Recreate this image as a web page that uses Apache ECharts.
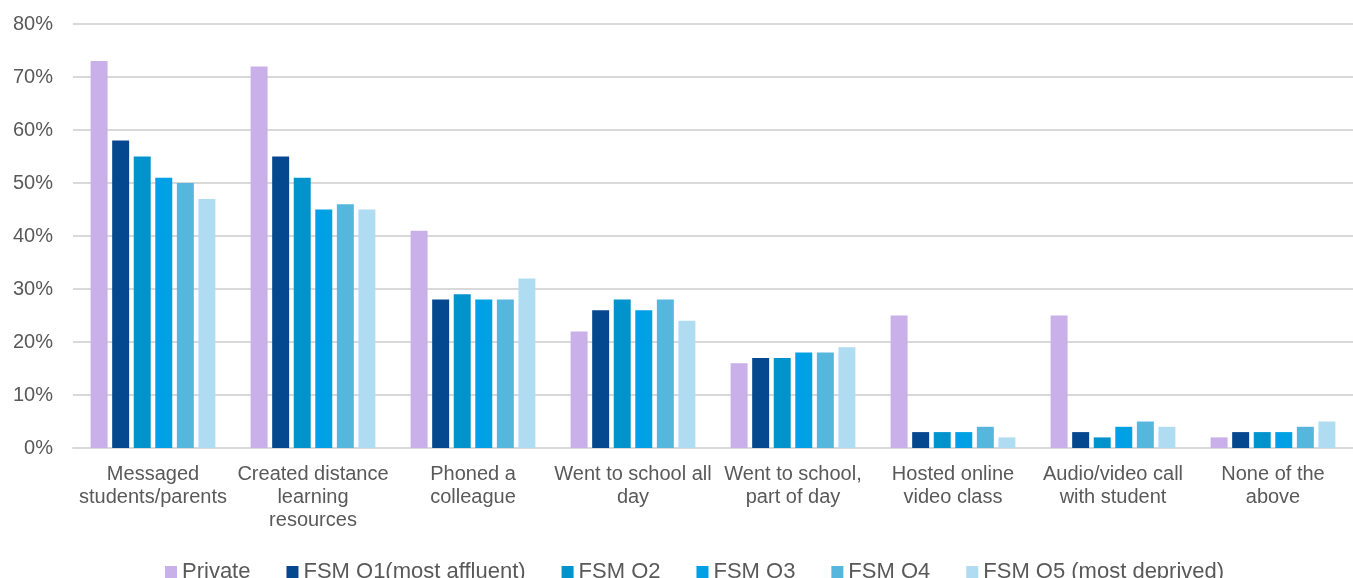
<!DOCTYPE html>
<html>
<head>
<meta charset="utf-8">
<script src="https://cdn.jsdelivr.net/npm/echarts@6/dist/echarts.min.js"></script>
<style>
html,body{margin:0;padding:0;background:#fff;}
#chart{width:1353px;height:578px;}
</style>
</head>
<body>
<div id="chart"></div>
<script>
const categories = [
  "Messaged\nstudents/parents",
  "Created distance\nlearning\nresources",
  "Phoned a\ncolleague",
  "Went to school all\nday",
  "Went to school,\npart of day",
  "Hosted online\nvideo class",
  "Audio/video call\nwith student",
  "None of the\nabove"
];
const seriesNames = ["Private", "FSM Q1(most affluent)", "FSM Q2", "FSM Q3", "FSM Q4", "FSM Q5 (most deprived)"];
const privateVals = [73, 72, 41, 22, 16, 25, 25, 2];
const q1Vals = [58, 55, 28, 26, 17, 3, 3, 3];
const q2Vals = [55, 51, 29, 28, 17, 3, 2, 3];
const q3Vals = [51, 45, 28, 26, 18, 3, 4, 3];
const q4Vals = [50, 46, 28, 28, 18, 4, 5, 4];
const q5Vals = [47, 45, 32, 24, 19, 2, 4, 5];
const yTicks = [0, 10, 20, 30, 40, 50, 60, 70, 80];

const colors = ["#CAB0E8", "#05488F", "#0093CC", "#00A1E4", "#57B6DD", "#B0DCF1"];
const allVals = [privateVals, q1Vals, q2Vals, q3Vals, q4Vals, q5Vals];

const chart = echarts.init(document.getElementById('chart'));
const FONT = "'Liberation Sans', Arial, sans-serif";
chart.setOption({
  animation: false,
  textStyle: { fontFamily: FONT },
  color: colors,
  grid: { left: 73, right: 0, top: 24, bottom: 130, containLabel: false },
  legend: {
    data: seriesNames,
    top: 556,
    left: 160,
    itemWidth: 12,
    itemHeight: 12,
    itemGap: 36,
    icon: 'rect',
    textStyle: { color: '#595959', fontSize: 22, fontFamily: FONT }
  },
  xAxis: {
    type: 'category',
    data: categories,
    axisLine: { lineStyle: { color: '#D9D9D9', width: 2 } },
    axisTick: { show: false },
    axisLabel: { interval: 0, color: '#595959', fontSize: 20, lineHeight: 23, margin: 15, align: 'center' }
  },
  yAxis: {
    type: 'value',
    min: yTicks[0],
    max: yTicks[yTicks.length - 1],
    interval: 10,
    axisLabel: { formatter: '{value}%', color: '#595959', fontSize: 20, margin: 20 },
    axisLine: { show: false },
    axisTick: { show: false },
    splitLine: { lineStyle: { color: '#D9D9D9', width: 2 } }
  },
  series: seriesNames.map((name, i) => ({
    name: name,
    type: 'bar',
    data: allVals[i],
    barGap: '27%',
    barCategoryGap: '22%',
    itemStyle: { color: colors[i] }
  }))
});
</script>
</body>
</html>
